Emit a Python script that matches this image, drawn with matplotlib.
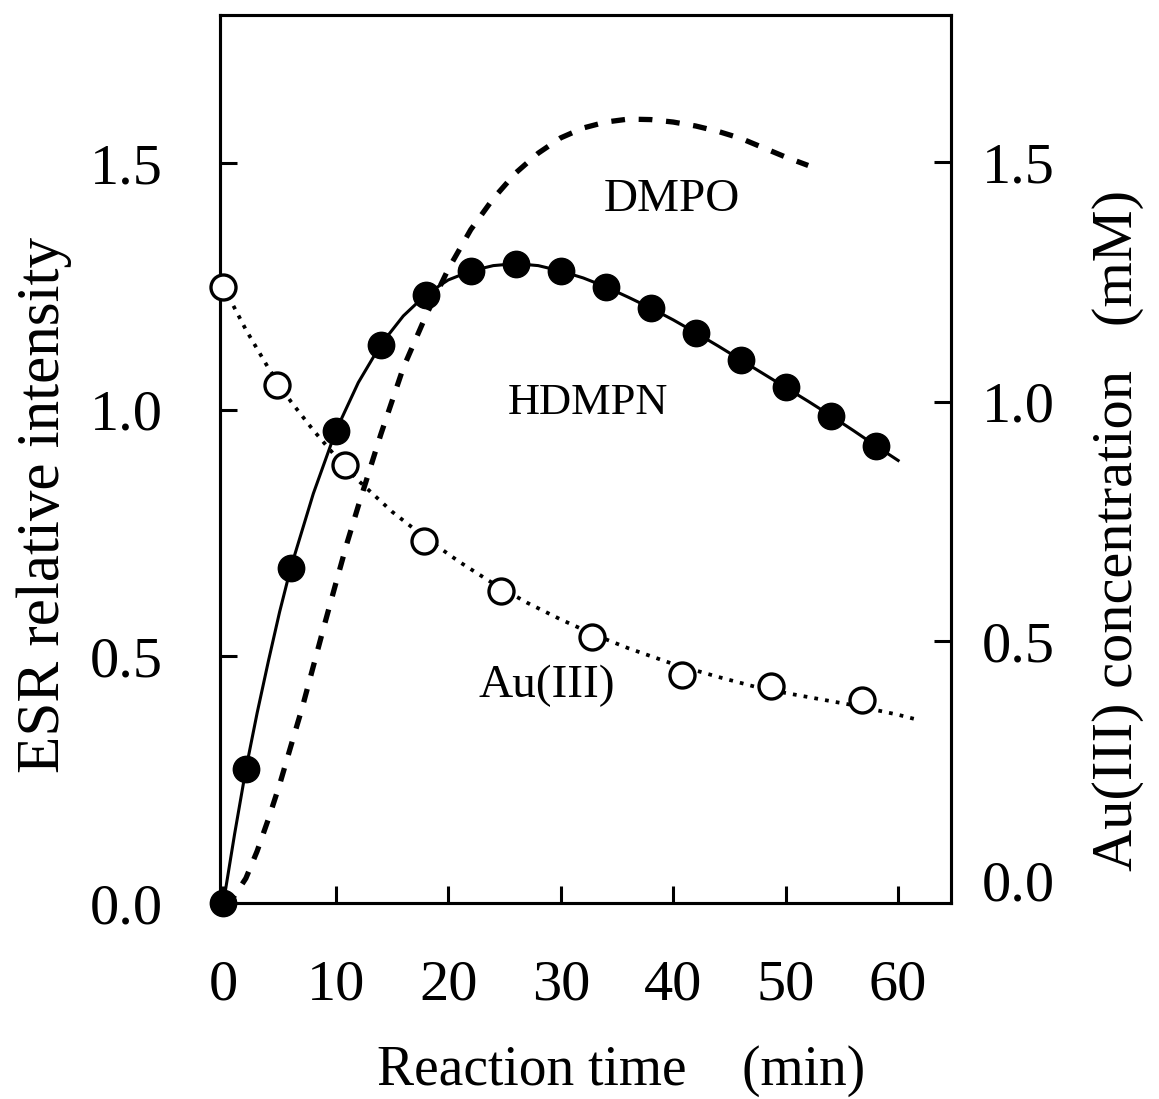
import matplotlib
matplotlib.use("Agg")
import matplotlib.pyplot as plt
import numpy as np

plt.rcParams['font.family'] = ['Liberation Serif', 'DejaVu Serif']

# ---- data ----
hdmpn_t = [0, 2, 6, 10, 14, 18, 22, 26, 30, 34, 38, 42, 46, 50, 54, 58]
hdmpn_y = [0.0, 0.271, 0.680, 0.957, 1.132, 1.233, 1.281, 1.296, 1.281,
           1.249, 1.206, 1.156, 1.101, 1.045, 0.988, 0.927]
# solid smooth curve through HDMPN (fit line)
hdmpn_fit_t = [0, 1, 2, 3, 4, 5, 6, 8, 10, 12, 14, 16, 18, 20, 22, 24, 26,
               28, 30, 32, 34, 36, 38, 40, 42, 44, 46, 48, 50, 52, 54, 56,
               58, 60]
hdmpn_fit_y = [0.0, 0.14, 0.271, 0.385, 0.49, 0.59, 0.680, 0.830, 0.957,
               1.055, 1.132, 1.19, 1.233, 1.263, 1.281, 1.292, 1.296, 1.292,
               1.281, 1.267, 1.249, 1.228, 1.206, 1.182, 1.156, 1.129, 1.101,
               1.073, 1.045, 1.017, 0.988, 0.958, 0.927, 0.897]

# DMPO dashed curve (left axis)
dmpo_t = [0, 1, 2, 3, 4, 5, 6, 7, 8, 9, 10, 11, 12, 14, 16, 18, 20, 22, 24,
          26, 28, 30, 32, 34, 36, 38, 40, 42, 44, 46, 48, 50, 52]
dmpo_y = [0.0, 0.015, 0.05, 0.105, 0.17, 0.24, 0.318, 0.395, 0.48, 0.565,
          0.648, 0.73, 0.805, 0.95, 1.085, 1.19, 1.285, 1.365, 1.428, 1.48,
          1.52, 1.551, 1.571, 1.583, 1.589, 1.588, 1.583, 1.575, 1.564,
          1.55, 1.531, 1.512, 1.495]

# Au(III) concentration (right axis)
au_t = [0, 4.8, 10.8, 17.8, 24.7, 32.8, 40.8, 48.7, 56.8]
au_y = [1.239, 1.034, 0.867, 0.709, 0.604, 0.508, 0.429, 0.406, 0.377]
au_fit_t = [0, 2, 4, 6, 8, 10, 12, 15, 18, 21, 24, 27, 30, 33, 36, 40, 44,
            48, 52, 56, 60, 62]
au_fit_y = [1.24, 1.15, 1.07, 1.0, 0.94, 0.885, 0.835, 0.77, 0.715, 0.665,
            0.62, 0.58, 0.545, 0.513, 0.485, 0.452, 0.425, 0.40, 0.383,
            0.366, 0.346, 0.334]

x_ticks = [0, 10, 20, 30, 40, 50, 60]
y_ticks = [0.0, 0.5, 1.0, 1.5]

W, H = 1159, 1099
fig = plt.figure(figsize=(W / 100, H / 100), dpi=100)
ax = fig.add_axes([220 / W, 1 - 903 / H, (951 - 220) / W, (903 - 15) / H])
ax2 = ax.twinx()

lw_axis = 2.2
for a in (ax, ax2):
    for s in a.spines.values():
        s.set_linewidth(lw_axis)

ax.set_xlim(-0.3, 64.7)
ax.set_ylim(0, 1.80)
ax2.set_ylim(-0.047, 1.807)

ax.plot(hdmpn_fit_t, hdmpn_fit_y, '-', color='black', lw=2.2, zorder=3)
ax.plot(hdmpn_t, hdmpn_y, 'o', color='black', ms=19, zorder=5, clip_on=False)
ax.plot(dmpo_t, dmpo_y, color='black', lw=3.8, dashes=(2.6, 2.6), zorder=2)

ax2.plot(au_fit_t, au_fit_y, color='black', lw=2.7, dashes=(1.0, 1.9), zorder=3)
ax2.plot(au_t, au_y, 'o', mfc='white', mec='black', mew=2.4, ms=18, zorder=6,
         clip_on=False)

fs = 42
ax.set_xticks(x_ticks)
ax.set_xticklabels([str(v) for v in x_ticks], fontsize=fs)
ax.set_yticks(y_ticks)
ax.set_yticklabels(['%.1f' % v for v in y_ticks], fontsize=fs)
ax.tick_params(axis='x', direction='in', length=12, width=lw_axis, pad=41)
ax.tick_params(axis='y', direction='in', length=12, width=lw_axis, pad=41)
ax.tick_params(top=False, right=False)

ax2.set_yticks(y_ticks)
ax2.set_yticklabels(['%.1f' % v for v in y_ticks], fontsize=fs)
ax2.tick_params(axis='y', direction='in', length=12, width=lw_axis, pad=22)
ax2.yaxis.get_major_ticks()[0].tick2line.set_visible(False)

ax.text(39.9, 1.425, 'DMPO', fontsize=34, ha='center', va='center')
ax.text(32.4, 1.014, 'HDMPN', fontsize=32, ha='center', va='center')
ax.text(28.8, 0.441, 'Au(III)', fontsize=34, ha='center', va='center')

fig.text(621 / W, 1 - 1071 / H, 'Reaction time    (min)', fontsize=40,
         ha='center', va='center')
fig.text(44 / W, 1 - 505 / H, 'ESR relative intensity', fontsize=44,
         ha='center', va='center', rotation=90)
fig.text(1118 / W, 1 - 530 / H, 'Au(III) concentration   (mM)', fontsize=42,
         ha='center', va='center', rotation=90)

fig.savefig('out.png', dpi=100)
